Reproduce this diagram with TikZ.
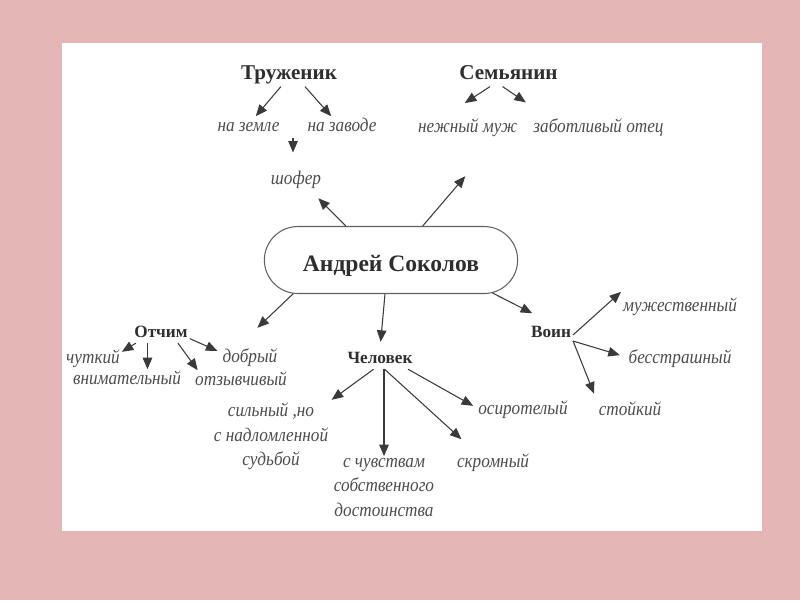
\documentclass[tikz,border=0pt]{standalone}
\usepackage{fontspec}
\setmainfont{Liberation Serif}
\newfontfamily\attrfont{Liberation Serif}[FakeStretch=0.89]
\usepackage{tikz}
\usetikzlibrary{arrows.meta,shapes.misc}
\definecolor{tpink}{HTML}{E4B6B6}
\definecolor{tink}{HTML}{2E2E2E}
\definecolor{tline}{HTML}{3A3A3A}

\begin{document}
\begin{tikzpicture}[x=0.02cm, y=-0.02cm,
  head/.style={font=\fontsize{12}{14}\selectfont\bfseries, text=tink, inner sep=1pt, text height=8.2pt, text depth=2.6pt},
  sub/.style={font=\fontsize{9.8}{12}\selectfont\bfseries, text=tink, inner sep=1pt, text height=7pt, text depth=2.2pt},
  attr/.style={font=\attrfont\fontsize{11}{14}\selectfont\itshape, text=tink!85, inner sep=1pt, align=center},
  tag/.style={attr, text height=7.6pt, text depth=2.3pt},
  arr/.style={-{Triangle[length=2.3mm,width=1.9mm]}, line width=0.6pt, draw=tline}]
\fill[tpink] (0,0) rectangle (800,600);
\fill[white] (62,43) rectangle (762,531);

\node[draw=tline!80, line width=0.6pt, rounded rectangle, minimum width=5.3cm, minimum height=1.34cm,
  text height=12.6pt, text depth=0pt,
  font=\fontsize{13.4}{16}\selectfont\bfseries, text=tink] (ak) at (391,260) {Андрей Соколов};

\node[head] (truzh) at (289,75) {Труженик};
\node[tag] (zemlya) at (248.5,127) {на земле};
\node[tag] (zavod) at (342,127) {на заводе};
\node[tag] (shofer) at (296,180) {шофер};
\coordinate (toshof) at (293,138);

\node[head] (semya) at (508.5,75) {Семьянин};
\node[tag] (muzh) at (467.5,128) {нежный муж};
\node[tag] (otec) at (598.5,128) {заботливый отец};

\node[sub] (otchim) at (161,333) {Отчим};
\node[tag] (chutkiy) at (93,359) {чуткий};
\node[tag] (vnimat) at (127,380) {внимательный};
\node[tag] (dobry) at (250,358) {добрый};
\node[tag] (otzyv) at (241,381) {отзывчивый};
\node[attr] (silny) at (271,436.5) {сильный ,но\\с надломленной\\судьбой};

\node[sub] (chelovek) at (380,359) {Человек};
\node[attr] (dostoin) at (384,487.5) {с чувствам\\собственного\\достоинства};
\node[tag] (skromny) at (493,463) {скромный};
\node[tag] (sirota) at (523,410) {осиротелый};

\node[sub] (voin) at (551,333) {Воин};
\node[tag] (muzhestv) at (680,307) {мужественный};
\node[tag] (besstrash) at (680,359) {бесстрашный};
\node[tag] (stoiky) at (630,411) {стойкий};

\draw[arr] (truzh.235) -- (zemlya.56);
\draw[arr] (truzh.-36) -- (zavod.135);
\draw[arr, shorten >=9.5pt] (toshof) -- (toshof |- shofer.north);
\draw[arr, shorten >=6pt] (ak.143) -- (shofer.-36);
\draw[arr, shorten >=28pt] (ak.47) -- (muzh.-20);
\draw[arr, shorten >=14.7pt] (semya.212) -- (muzh.156);
\draw[arr, shorten >=15pt] (semya.243) -- (otec.168);
\draw[arr, shorten >=16pt] (ak.199) -- (dobry.140);
\draw[arr, shorten >=4pt] (ak.260) -- (chelovek.north);
\draw[arr, shorten >=12pt] (ak.-18) -- (voin.north);

\draw[arr] (otchim.202) -- (chutkiy.14);
\draw[arr] (otchim.217) -- (otchim.217 |- vnimat.north);
\draw[arr] (otchim.-31) -- (otzyv.166);
\draw[arr, shorten >=2pt] (otchim.-11) -- (dobry.169);

\draw[arr, shorten >=1pt] (chelovek.238) -- (silny.north east);
\draw[arr] (chelovek.south -| dostoin) -- (dostoin.north);
\draw[arr, shorten >=11pt] (chelovek.-66) -- (skromny.148);
\draw[arr, shorten >=2pt] (chelovek.-20) -- (sirota.177);

\draw[arr] (voin.-5) -- ([yshift=2.5pt]muzhestv.north west);
\draw[arr, shorten >=4pt] (voin.-20) -- (besstrash.178);
\draw[arr, shorten >=4pt] (voin.-20) -- (stoiky.north west);
\end{tikzpicture}
\end{document}
